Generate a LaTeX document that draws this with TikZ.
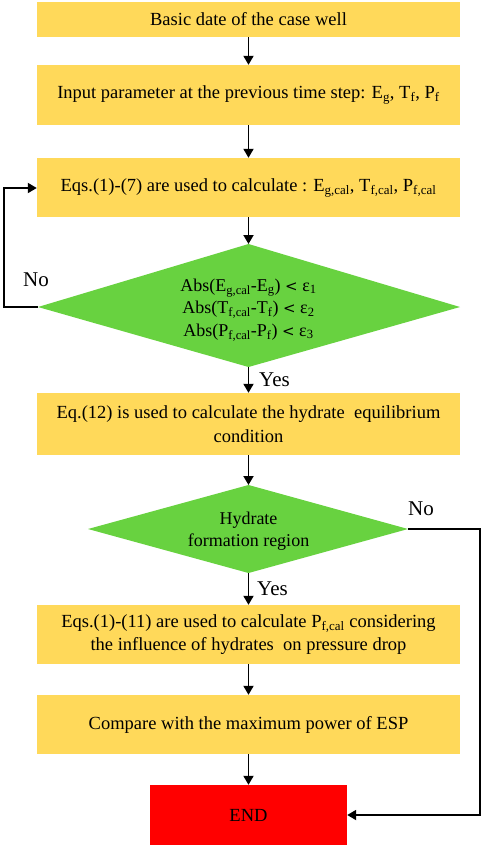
\documentclass[tikz,border=0pt]{standalone}
\usepackage{fontspec}
\setmainfont{Liberation Serif}
\usetikzlibrary{shapes.geometric,arrows.meta}
\definecolor{boxyellow}{RGB}{255,217,90}
\definecolor{diagreen}{RGB}{104,210,64}
\definecolor{endred}{RGB}{255,0,0}
\tikzset{
  procbox/.style={fill=boxyellow, draw=none, minimum width=423pt, align=center, inner sep=0pt, font=\fontsize{18.5}{23.5}\selectfont},
  conn/.style={draw=black, line width=1.8pt, -{Triangle[length=9pt,width=10pt]}},
  lbl/.style={font=\fontsize{21}{24}\selectfont, inner sep=0pt}
}
\newcommand{\lt}{{\fontspec{DejaVu Serif}\fontsize{15}{17}\selectfont<}}
\begin{document}
\begin{tikzpicture}[x=1pt,y=-1pt]
\useasboundingbox (0,0) rectangle (484,847);
\fill[white] (0,0) rectangle (484,847);
% boxes
\node[procbox, minimum height=35pt] (b1) at (248.5,19.5) {Basic date of the case well};
\node[procbox, minimum height=60pt] (b2) at (248.5,95) {Input parameter at the previous time step: E\textsubscript{g}, T\textsubscript{f}, P\textsubscript{f}};
\node[procbox, minimum height=59pt] (b3) at (248.5,187.5) {Eqs.(1)-(7) are used to calculate : E\textsubscript{g,cal}, T\textsubscript{f,cal}, P\textsubscript{f,cal}};
% diamond 1
\fill[diagreen] (38,307) -- (248.5,244) -- (460,307) -- (248.5,367) -- cycle;
\coordinate (d1t) at (248.5,244);
\coordinate (d1l) at (38,307);
\coordinate (d1b) at (248.5,367);
\node[font=\fontsize{18}{22.5}\selectfont, align=center, inner sep=0pt] (d1) at (248.5,310) {Abs(E\textsubscript{g,cal}-E\textsubscript{g}) \lt{} ε\textsubscript{1}\\Abs(T\textsubscript{f,cal}-T\textsubscript{f}) \lt{} ε\textsubscript{2}\\Abs(P\textsubscript{f,cal}-P\textsubscript{f}) \lt{} ε\textsubscript{3}};
\node[procbox, minimum height=62pt] (b4) at (248.5,424) {Eq.(12) is used to calculate the hydrate\ \ equilibrium\\condition};
% diamond 2
\fill[diagreen] (88,529) -- (248.5,485) -- (408,529) -- (248.5,573) -- cycle;
\coordinate (d2t) at (248.5,485);
\coordinate (d2r) at (408,529);
\coordinate (d2b) at (248.5,573);
\node[font=\fontsize{18}{22.5}\selectfont, align=center, inner sep=0pt] (d2) at (248.5,531) {Hydrate\\formation region};
\node[procbox, minimum height=59pt] (b5) at (248.5,634.5) {Eqs.(1)-(11) are used to calculate P\textsubscript{f,cal} considering\\the influence of hydrates\ \ on pressure drop};
\node[procbox, minimum height=59pt] (b6) at (248.5,724.5) {Compare with the maximum power of ESP};
\node[fill=endred, minimum width=197pt, minimum height=60pt, inner sep=0pt, font=\fontsize{18.5}{22}\selectfont] (e) at (248.5,815) {END};
% connectors
\draw[conn] (b1.south) -- (b2.north);
\draw[conn] (b2.south) -- (b3.north);
\draw[conn] (b3.south) -- (d1t);
\draw[conn] (d1b) -- (b4.north);
\draw[conn] (b4.south) -- (d2t);
\draw[conn] (d2b) -- (b5.north);
\draw[conn] (b5.south) -- (b6.north);
\draw[conn] (b6.south) -- (e.north);
\draw[conn] (d1l) -- (4,307) -- (4,188) -- (b3.west |- 0,188);
\draw[conn] (d2r) -- (480,529) -- (480,815) -- (e.east);
% labels
\node[lbl, anchor=west] (no1) at (23,280) {No};
\node[lbl, anchor=west] (yes1) at (259,380) {Yes};
\node[lbl, anchor=west] (no2) at (408,509) {No};
\node[lbl, anchor=west] (yes2) at (257,589) {Yes};
\end{tikzpicture}
\end{document}
